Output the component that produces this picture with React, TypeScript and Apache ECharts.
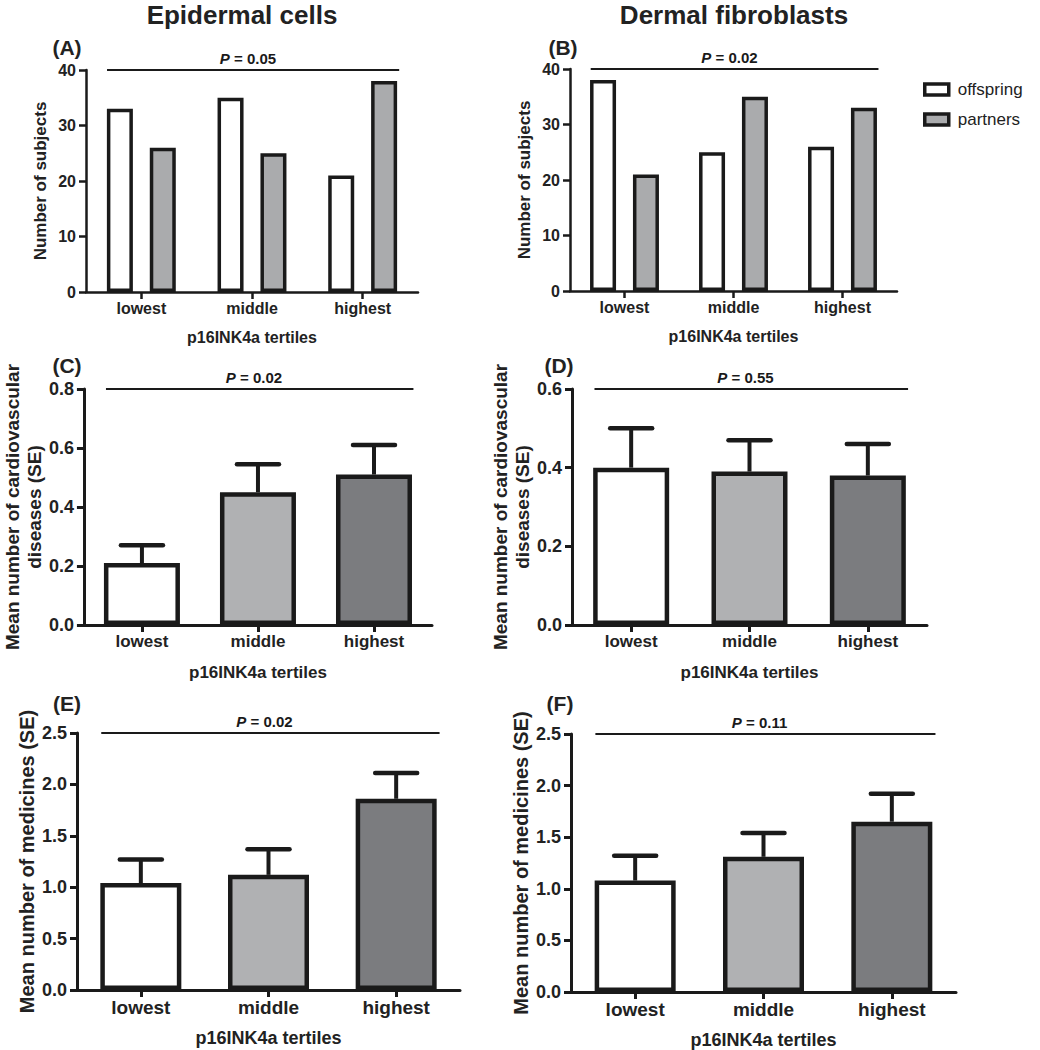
import React, { useEffect, useRef } from "react";
import * as echarts from "echarts";

// ---------- data ----------
const categories = ["lowest", "middle", "highest"];
const seriesNames = ["offspring", "partners"];

// (A) Epidermal cells: number of subjects
const aOffspring = [33, 35, 21];
const aPartners = [26, 25, 38];
// (B) Dermal fibroblasts: number of subjects
const bOffspring = [38, 25, 26];
const bPartners = [21, 35, 33];

// (C) Epidermal cells: mean number of cardiovascular diseases, SE
const cMean = [0.21, 0.45, 0.51];
const cSE = [0.06, 0.095, 0.1];
// (D) Dermal fibroblasts
const dMean = [0.4, 0.39, 0.38];
const dSE = [0.1, 0.08, 0.08];
// (E) Epidermal cells: mean number of medicines, SE
const eMean = [1.04, 1.12, 1.86];
const eSE = [0.23, 0.25, 0.25];
// (F) Dermal fibroblasts
const fMean = [1.08, 1.31, 1.65];
const fSE = [0.24, 0.23, 0.27];

const pValues = ["0.05", "0.02", "0.02", "0.55", "0.02", "0.11"];
const yMaxes = [40, 40, 0.8, 0.6, 2.5, 2.5];
const yIntervals = [10, 10, 0.2, 0.2, 0.5, 0.5];
const panelLabels = ["(A)", "(B)", "(C)", "(D)", "(E)", "(F)"];
const columnTitles = ["Epidermal cells", "Dermal fibroblasts"];
const xTitle = "p16INK4a tertiles";
const yTitles = [
  "Number of subjects",
  "Number of subjects",
  "Mean number of cardiovascular\ndiseases (SE)",
  "Mean number of cardiovascular\ndiseases (SE)",
  "Mean number of medicines (SE)",
  "Mean number of medicines (SE)",
];

// ---------- styling ----------
const FONT = "Liberation Sans, Arial, Helvetica, sans-serif";
const INK = "#1a1a1a";
const WHITE = "#ffffff";
const LIGHT = "#b0b1b3";
const DARK = "#7b7c7f";
const PARTNER = "#aaabad";
const tertileColors = [WHITE, LIGHT, DARK];

const grids = [
  { left: 86, top: 70, width: 332, height: 222 },
  { left: 570, top: 69, width: 327, height: 222 },
  { left: 78, top: 389, width: 354, height: 236 },
  { left: 572, top: 389, width: 355, height: 236 },
  { left: 77, top: 733, width: 383, height: 257 },
  { left: 571, top: 734, width: 385, height: 258 },
];
// per panel text sizes / gaps
const tickFont = [16, 16, 18, 18, 18, 18];
const catFont = [16, 16, 17, 17, 19, 19];
const yTitleFont = [17, 17, 19, 19, 20, 20];
const xTitleFont = [16, 16, 17, 17, 18, 18];
const yNameGap = [35, 35, 38, 33, 39, 38];
const xNameGap = [37, 37, 39, 39, 39, 39];
const labelPos = [
  [67, 47],
  [563, 47],
  [67, 365],
  [559, 365],
  [67, 703],
  [560, 703],
];

function pLineRender(pText: string, lOff: number, rOff: number) {
  return (params: any, api: any) => {
    const yMax = api.value(1);
    const l = api.coord([0, yMax]);
    const m = api.coord([1, yMax]);
    const r = api.coord([2, yMax]);
    const band = api.size([1, 0])[0];
    return {
      type: "group",
      children: [
        {
          type: "line",
          shape: { x1: l[0] - band * lOff, y1: l[1], x2: r[0] + band * rOff, y2: r[1] },
          style: { stroke: INK, lineWidth: 2 },
        },
        {
          type: "text",
          x: m[0] - 4,
          y: l[1] - 12,
          style: {
            text: "{i|P} = " + pText,
            rich: {
              i: { fontStyle: "italic", fontWeight: "bold", fontSize: 15, fontFamily: FONT, fill: INK },
            },
            fontSize: 15,
            fontWeight: "bold",
            fontFamily: FONT,
            fill: INK,
            align: "center",
            verticalAlign: "middle",
            textAlign: "center",
            textVerticalAlign: "middle",
          },
        },
      ],
    };
  };
}

function errRender(params: any, api: any) {
  const idx = api.value(0);
  const v = api.value(1);
  const se = api.value(2);
  const b = api.coord([idx, v]);
  const t = api.coord([idx, v + se]);
  const capHalf = 21;
  return {
    type: "group",
    children: [
      {
        type: "line",
        shape: { x1: b[0], y1: b[1], x2: t[0], y2: t[1] },
        style: { stroke: INK, lineWidth: 4 },
      },
      {
        type: "line",
        shape: { x1: t[0] - capHalf, y1: t[1], x2: t[0] + capHalf, y2: t[1] },
        style: { stroke: INK, lineWidth: 4.5, lineCap: "round" },
      },
    ],
  };
}

function buildOption() {
  const xAxis: any[] = [];
  const yAxis: any[] = [];
  const series: any[] = [];

  for (let i = 0; i < 6; i++) {
    const thick = i < 2 ? 2.5 : 3;
    xAxis.push({
      type: "category",
      gridIndex: i,
      data: categories,
      name: xTitle,
      nameLocation: "middle",
      nameGap: xNameGap[i],
      nameTextStyle: { fontFamily: FONT, fontWeight: "bold", fontSize: xTitleFont[i], color: "#222" },
      axisLine: { show: true, lineStyle: { color: INK, width: thick } },
      axisTick: { show: true, alignWithLabel: true, length: 7, lineStyle: { color: INK, width: thick } },
      axisLabel: {
        interval: 0,
        margin: 8,
        fontFamily: FONT,
        fontWeight: "bold",
        fontSize: catFont[i],
        color: "#222",
      },
      splitLine: { show: false },
    });
    yAxis.push({
      type: "value",
      gridIndex: i,
      min: 0,
      max: yMaxes[i],
      interval: yIntervals[i],
      name: yTitles[i],
      nameLocation: "middle",
      nameRotate: 90,
      nameGap: yNameGap[i],
      nameTextStyle: {
        fontFamily: FONT,
        fontWeight: "bold",
        fontSize: yTitleFont[i],
        color: "#222",
        lineHeight: 22,
      },
      axisLine: { show: true, lineStyle: { color: INK, width: thick } },
      axisTick: { show: true, length: 7, lineStyle: { color: INK, width: thick } },
      axisLabel: {
        margin: 10,
        fontFamily: FONT,
        fontWeight: "bold",
        fontSize: tickFont[i],
        color: "#222",
        formatter: i < 2 ? (v: number) => String(v) : (v: number) => v.toFixed(1),
      },
      splitLine: { show: false },
    });
  }

  // Panels A and B: grouped bars
  const grouped = [
    [aOffspring, aPartners],
    [bOffspring, bPartners],
  ];
  grouped.forEach((pair, i) => {
    pair.forEach((vals, s) => {
      series.push({
        type: "bar",
        name: seriesNames[s],
        xAxisIndex: i,
        yAxisIndex: i,
        data: vals,
        barWidth: 26,
        barGap: "65%",
        itemStyle: { color: s === 0 ? WHITE : PARTNER, borderColor: INK, borderWidth: 3.5 },
        emphasis: { disabled: true },
      });
    });
  });

  // Panels C-F: single bars with error bars
  const singles = [
    [cMean, cSE],
    [dMean, dSE],
    [eMean, eSE],
    [fMean, fSE],
  ];
  singles.forEach(([mean, se], k) => {
    const i = k + 2;
    series.push({
      type: "bar",
      xAxisIndex: i,
      yAxisIndex: i,
      data: mean.map((v, j) => ({ value: v, itemStyle: { color: tertileColors[j] } })),
      barWidth: i < 4 ? 76 : 81,
      itemStyle: { borderColor: INK, borderWidth: 4.5 },
      emphasis: { disabled: true },
      z: 2,
    });
    series.push({
      type: "custom",
      xAxisIndex: i,
      yAxisIndex: i,
      data: mean.map((v, j) => [j, v, se[j]]),
      encode: { x: 0, y: 1 },
      renderItem: errRender,
      clip: false,
      z: 3,
    });
  });

  // P-value annotation lines
  for (let i = 0; i < 6; i++) {
    series.push({
      type: "custom",
      xAxisIndex: i,
      yAxisIndex: i,
      data: [[1, yMaxes[i]]],
      encode: { x: 0, y: 1 },
      renderItem: pLineRender(pValues[i], 0.31, i < 2 ? 0.33 : 0.34),
      clip: false,
      silent: true,
      z: 4,
    });
  }

  const graphic: any[] = [
    {
      type: "text",
      x: 242,
      y: 15,
      style: {
        text: columnTitles[0],
        fontFamily: FONT,
        fontWeight: "bold",
        fontSize: 26,
        fill: "#222",
        textAlign: "center",
        textVerticalAlign: "middle",
      },
    },
    {
      type: "text",
      x: 734,
      y: 15,
      style: {
        text: columnTitles[1],
        fontFamily: FONT,
        fontWeight: "bold",
        fontSize: 26,
        fill: "#222",
        textAlign: "center",
        textVerticalAlign: "middle",
      },
    },
    ...panelLabels.map((t, i) => ({
      type: "text",
      x: labelPos[i][0],
      y: labelPos[i][1],
      style: {
        text: t,
        fontFamily: FONT,
        fontWeight: "bold",
        fontSize: 21,
        fill: "#222",
        textAlign: "center",
        textVerticalAlign: "middle",
      },
    })),
  ];

  return {
    animation: false,
    backgroundColor: "#ffffff",
    grid: grids.map((g) => ({ ...g, containLabel: false })),
    xAxis,
    yAxis,
    series,
    graphic,
    legend: {
      data: seriesNames.map((n) => ({ name: n, icon: "rect" })),
      orient: "vertical",
      left: 918,
      top: 76,
      itemWidth: 24,
      itemHeight: 11,
      itemGap: 13,
      selectedMode: false,
      itemStyle: { borderColor: INK, borderWidth: 3.5 },
      textStyle: { fontFamily: FONT, fontSize: 17, color: "#222", padding: [0, 0, 0, 4] },
    },
  };
}

export default function App() {
  const ref = useRef<HTMLDivElement | null>(null);
  useEffect(() => {
    document.body.style.margin = "0";
    if (!ref.current) return;
    const chart = echarts.init(ref.current, undefined, { renderer: "svg" });
    chart.setOption(buildOption() as any);
    return () => {
      chart.dispose();
    };
  }, []);
  return <div ref={ref} style={{ width: 1040, height: 1050, background: "#fff" }} />;
}
